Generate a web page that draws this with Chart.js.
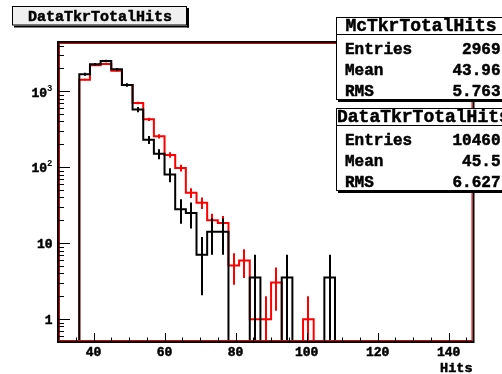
<!DOCTYPE html>
<html>
<head>
<meta charset="utf-8">
<script src="https://cdn.jsdelivr.net/npm/chart.js@4.4.1/dist/chart.umd.min.js"></script>
<style>
  body { margin: 0; background: #fff; }
  #c { display: block; }
</style>
</head>
<body>
<canvas id="c" width="502" height="374"></canvas>
<script>

// histogram binning: 39 bins of 3 hits from 30 to 147
var xMin = 30, xMax = 147, binWidth = 3;

// data histogram (black), one value per bin
var dataCounts = [0, 0, 1675, 2266, 2505, 1947, 1210, 575, 230, 150,
                  80, 28, 25, 7.04, 14.1, 14.1, 0, 0, 3.52, 0,
                  0, 3.52, 0, 0, 0, 3.52, 0, 0, 0, 0,
                  0, 0, 0, 0, 0, 0, 0, 0, 0];
// weight of one data event (error = sqrt(n * weight))
var dataWeight = 3.52;

// mc histogram (red), one value per bin
var mcCounts = [0, 0, 1422, 2198, 2287, 1867, 1210, 700, 428, 255,
                145, 98, 46, 34, 20, 18.5, 5.1, 5.9, 1, 1,
                3.03, 0, 0, 1, 0, 0, 0, 0, 0, 0,
                0, 0, 0, 0, 0, 0, 0, 0, 0];

// axis ticks
var xTickValues = [40, 60, 80, 100, 120, 140];
var yTickValues = [1, 10, 100, 1000];
var yTickBase = ['1', '10', '10', '10'];
var yTickExp = ['', '', '2', '3'];
var yMin = 0.5, yMax = 4450;

// stat boxes
var statNames = ['McTkrTotalHits', 'DataTkrTotalHits'];
var statEntries = ['2969', '10460'];
var statMean = ['43.96', '45.5'];
var statRms = ['5.763', '6.627'];

var histTitle = 'DataTkrTotalHits';
var xTitle = 'Hits';

var FONT = '"Liberation Mono", "Courier New", monospace';


/*
* build step points (left bin edges) for a histogram
*
* @param counts
* @param floor value used for empty bins on the log axis
*/
function histPoints(counts, floor){
  var pts = [];
  for(var i = 0; i < counts.length; i++){
    pts.push({x: xMin + i * binWidth, y: counts[i] > 0 ? counts[i] : floor});
  }
  pts.push({x: xMax, y: pts[pts.length - 1].y});
  return pts;
}


// heavy courier-like text: fill plus a thin stroke
function boldText(ctx, text, x, y){
  ctx.fillText(text, x, y);
  ctx.lineWidth = 0.5;
  ctx.strokeStyle = ctx.fillStyle;
  ctx.strokeText(text, x, y);
}


/*
* vertical error bars at bin centres
*/
function drawErrors(chart, counts, weight, color){
  var ctx = chart.ctx, area = chart.chartArea;
  var xs = chart.scales.x, ys = chart.scales.y;

  ctx.save();
  ctx.beginPath();
  ctx.rect(area.left, area.top, area.right - area.left, area.bottom - area.top);
  ctx.clip();
  ctx.strokeStyle = color;
  ctx.lineWidth = 2;

  for(var i = 0; i < counts.length; i++){
    var v = counts[i];
    if(v <= 0) continue;
    var e = Math.sqrt(v * weight);
    var x = Math.round(xs.getPixelForValue(xMin + (i + 0.5) * binWidth));
    var yHi = ys.getPixelForValue(v + e);
    var yLo = (v - e) > 0 ? ys.getPixelForValue(v - e) : area.bottom + 2;
    ctx.beginPath();
    ctx.moveTo(x, yLo);
    ctx.lineTo(x, yHi);
    ctx.stroke();
  }
  ctx.restore();
}


/*
* frame, ticks and tick labels
*/
function drawAxes(chart){
  var ctx = chart.ctx, area = chart.chartArea;
  var xs = chart.scales.x, ys = chart.scales.y;

  ctx.save();

  // frame
  ctx.strokeStyle = '#000';
  ctx.lineWidth = 2;
  ctx.strokeRect(area.left, area.top, area.right - area.left, area.bottom - area.top);
  ctx.strokeStyle = '#e00000';
  ctx.lineWidth = 1;
  ctx.strokeRect(area.left + 1.5, area.top + 1.5, area.right - area.left - 3, area.bottom - area.top - 3);

  ctx.strokeStyle = '#000';
  ctx.lineWidth = 1;

  // y ticks (log)
  for(var p = -1; p <= 3; p++){
    for(var m = 1; m <= 9; m++){
      var v = m * Math.pow(10, p);
      if(v < yMin || v > yMax) continue;
      var y = Math.round(ys.getPixelForValue(v)) + 0.5;
      ctx.beginPath();
      ctx.moveTo(area.left, y);
      ctx.lineTo(area.left + (m == 1 ? 12 : 6), y);
      ctx.stroke();
    }
  }

  // x ticks
  for(var t = 35; t < xMax; t += 5){
    var x = Math.round(xs.getPixelForValue(t)) + 0.5;
    var len = (t % 20 == 0) ? 9 : 4.5;
    ctx.beginPath();
    ctx.moveTo(x, area.bottom);
    ctx.lineTo(x, area.bottom - len);
    ctx.stroke();
  }

  ctx.fillStyle = '#000';

  // y labels
  ctx.textBaseline = 'middle';
  ctx.textAlign = 'right';
  yTickValues.forEach(function(v, i){
    var y = ys.getPixelForValue(v);
    var right = 52.5;
    if(yTickExp[i] != ''){
      ctx.font = 'bold 9px ' + FONT;
      ctx.fillText(yTickExp[i], right, y - 3);
      right -= ctx.measureText(yTickExp[i]).width;
    }
    ctx.font = 'bold 13px ' + FONT;
    boldText(ctx, yTickBase[i], right, y + 2);
  });

  // x labels
  ctx.textAlign = 'center';
  ctx.font = 'bold 13px ' + FONT;
  xTickValues.forEach(function(v){
    boldText(ctx, String(v), xs.getPixelForValue(v), area.bottom + 11);
  });

  // x title
  ctx.textAlign = 'right';
  ctx.font = 'bold 13.5px ' + FONT;
  boldText(ctx, xTitle, area.right - 1, 368.5);

  ctx.restore();
}


/*
* boxed text with shadow (title pave and stat boxes)
*/
function drawPave(ctx, left, top, right, bottom, fill){
  ctx.fillStyle = '#000';
  ctx.fillRect(left + 2, bottom, right - left, 2);
  ctx.fillRect(right, top + 2, 2, bottom - top);
  ctx.fillStyle = fill;
  ctx.fillRect(left, top, right - left, bottom - top);
  ctx.strokeStyle = '#000';
  ctx.lineWidth = 1;
  ctx.strokeRect(left + 0.5, top + 0.5, right - left - 1, bottom - top - 1);
}

function drawStatBox(ctx, k, top){
  var left = 336, right = 507;
  drawPave(ctx, left, top, right, top + 83, '#fff');

  // separator under the title
  ctx.strokeStyle = '#000';
  ctx.lineWidth = 1;
  ctx.beginPath();
  ctx.moveTo(left, top + 17.5);
  ctx.lineTo(right, top + 17.5);
  ctx.stroke();

  ctx.fillStyle = '#000';
  ctx.textBaseline = 'alphabetic';

  ctx.font = 'bold 18px ' + FONT;
  var w = ctx.measureText(statNames[k]).width;
  ctx.textAlign = 'left';
  boldText(ctx, statNames[k], Math.max(left + 1, (left + 506) / 2 - w / 2), top + 14);

  var labels = ['Entries', 'Mean', 'RMS'];
  var values = [statEntries[k], statMean[k], statRms[k]];
  var base = [36.5, 57.5, 79];
  ctx.font = 'bold 16px ' + FONT;
  for(var i = 0; i < 3; i++){
    ctx.textAlign = 'left';
    boldText(ctx, labels[i], 345, top + base[i]);
    ctx.textAlign = 'right';
    boldText(ctx, values[i], 500.5, top + base[i]);
  }
}


var decorPlugin = {
  id: 'decor',
  beforeDraw: function(chart){
    var ctx = chart.ctx;
    ctx.save();
    ctx.fillStyle = '#fff';
    ctx.fillRect(0, 0, chart.width, chart.height);
    ctx.restore();
  },
  afterDatasetsDraw: function(chart){
    drawErrors(chart, mcCounts, 1, '#ff0000');
    drawErrors(chart, dataCounts, dataWeight, '#000');
    drawAxes(chart);
  },
  afterDraw: function(chart){
    var ctx = chart.ctx;
    ctx.save();

    // histogram title
    drawPave(ctx, 12, 6, 187, 25.5, '#f0f0f0');
    ctx.fillStyle = '#000';
    ctx.font = 'bold 15px ' + FONT;
    ctx.textAlign = 'left';
    ctx.textBaseline = 'alphabetic';
    boldText(ctx, histTitle, 28, 20.5);

    drawStatBox(ctx, 0, 17);
    drawStatBox(ctx, 1, 108);
    ctx.restore();
  }
};


var chart = new Chart(document.getElementById('c'), {
  type: 'line',
  data: {
    datasets: [
      {
        label: 'data',
        data: histPoints(dataCounts, 0.3),
        borderColor: '#000',
        borderWidth: 2,
        stepped: 'before',
        pointRadius: 0,
        fill: false
      },
      {
        label: 'mc',
        data: histPoints(mcCounts, yMin),
        borderColor: '#ff0000',
        borderWidth: 2,
        stepped: 'before',
        pointRadius: 0,
        fill: false
      }
    ]
  },
  options: {
    responsive: false,
    animation: false,
    layout: { padding: { left: 58, right: 28.5, top: 42, bottom: 32 } },
    plugins: { legend: { display: false }, tooltip: { enabled: false } },
    scales: {
      x: { type: 'linear', min: xMin, max: xMax, display: false },
      y: { type: 'logarithmic', min: yMin, max: yMax, display: false }
    }
  },
  plugins: [decorPlugin]
});
</script>
</body>
</html>
